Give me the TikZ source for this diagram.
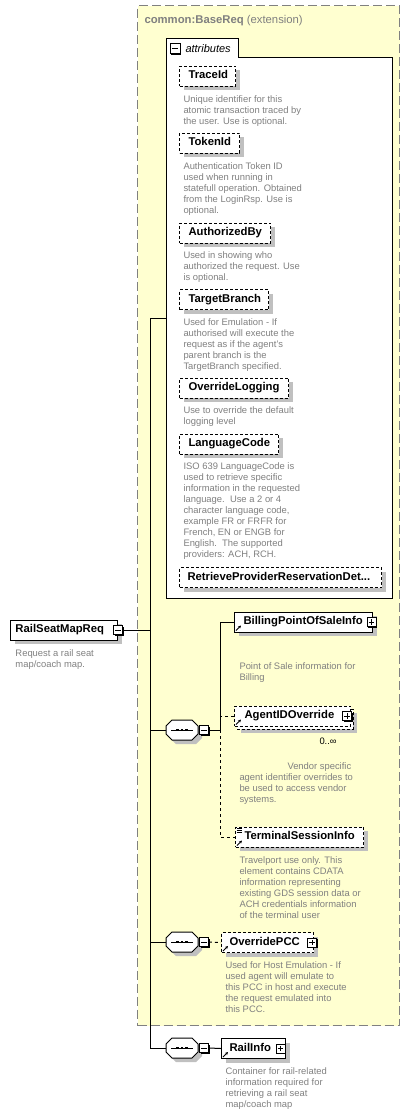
\documentclass[tikz,border=0pt]{standalone}
\usepackage{fontspec}
\setmainfont{Liberation Sans}
\usetikzlibrary{shadows,arrows.meta}
\definecolor{bgyellow}{RGB}{255,255,208}
\definecolor{shadowgray}{RGB}{192,192,192}
\definecolor{descgray}{RGB}{128,128,128}
\definecolor{framegray}{RGB}{128,128,128}
\newcommand\lblfont{\fontsize{11.3}{13}\selectfont\bfseries}
\newcommand\descfont{\fontsize{9.4}{10.9}\selectfont}
\begin{document}
\begin{tikzpicture}[x=1pt,y=-1pt,line width=1pt,
  lblbase/.style={font=\lblfont, text height=8.2pt, text depth=2.6pt, inner ysep=0pt, inner xsep=0pt,
    minimum height=20pt, anchor=west, align=left, fill=white, draw=black, line width=1pt},
  lbl/.style={lblbase, drop shadow={shadow xshift=4pt, shadow yshift=-4pt, fill=shadowgray, opacity=1}},
  opt/.style={dash pattern=on 3pt off 2pt},
  optline/.style={dash pattern=on 3pt off 3pt},
  desc/.style={font=\descfont, text=descgray, align=left, anchor=north west, inner sep=0pt},
  icon/.style={draw=black, fill=white, line width=0.8pt, minimum size=9pt, inner sep=0pt,
    drop shadow={shadow xshift=1.2pt, shadow yshift=-1.2pt, fill=black, opacity=1}},
  minus/.style={path picture={\draw[line width=0.8pt] ([xshift=1.8pt]path picture bounding box.west) -- ([xshift=-1.8pt]path picture bounding box.east);}},
  plus/.style={path picture={\draw[line width=0.8pt] ([xshift=1.8pt]path picture bounding box.west) -- ([xshift=-1.8pt]path picture bounding box.east) ([yshift=-1.8pt]path picture bounding box.north) -- ([yshift=1.8pt]path picture bounding box.south);}},
  seqbox/.style={minimum width=32pt, minimum height=20pt, inner sep=0pt},
  refarrow/.style={line width=0.9pt, -{Stealth[length=3pt,width=3pt]}}
]
\useasboundingbox (0,0) rectangle (417,1114);

% extension frame
\node[draw=framegray, dash pattern=on 9pt off 4pt, fill=bgyellow, line width=1pt,
  minimum width=262pt, minimum height=1020pt, anchor=north west, inner sep=0pt] (base) at (137,5) {};
\node[anchor=base west, inner sep=0pt, text=descgray, font=\lblfont] (title) at (144,23)
  {common:BaseReq {\mdseries (extension)}};

% attributes group
\draw[fill=white, line width=1pt] (166,598) -- (166,38) -- (238,38) -- (238,57) -- (392,57) -- (392,598) -- cycle;
\node[icon, minus, minimum size=10pt] (attricon) at (175,48.5) {};
\node[anchor=base west, inner sep=0pt, font=\fontsize{11}{13}\selectfont\itshape] (attrlbl) at (185,52) {attributes};
\coordinate (attrjoin) at (166,318);

\node[lbl, opt, text width=56pt] (traceid) at (179,76) {\hspace*{9pt}TraceId};
\node[desc] (traceiddesc) at (183,95.5) {Unique identifier for this\\atomic transaction traced by\\the user. Use is optional.};

\node[lbl, opt, text width=60pt] (tokenid) at (179,143) {\hspace*{9pt}TokenId};
\node[desc] (tokeniddesc) at (183,162.5) {Authentication Token ID\\used when running in\\statefull operation. Obtained\\from the LoginRsp. Use is\\optional.};

\node[lbl, opt, text width=91pt] (authby) at (179,233) {\hspace*{9pt}AuthorizedBy};
\node[desc] (authbydesc) at (183,251.5) {Used in showing who\\authorized the request. Use\\is optional.};

\node[lbl, opt, text width=89pt] (targetbr) at (179,299.5) {\hspace*{9pt}TargetBranch};
\node[desc] (targetbrdesc) at (183,318.5) {Used for Emulation - If\\authorised will execute the\\request as if the agent's\\parent branch is the\\TargetBranch specified.};

\node[lbl, opt, text width=109pt] (ovlog) at (179,388) {\hspace*{9pt}OverrideLogging};
\node[desc] (ovlogdesc) at (183,406.5) {Use to override the default\\logging level};

\node[lbl, opt, text width=99pt] (langcode) at (179,444) {\hspace*{9pt}LanguageCode};
\node[desc] (langcodedesc) at (183,462.5) {ISO 639 LanguageCode is\\used to retrieve specific\\information in the requested\\language.\ \ Use a 2 or 4\\character language code,\\example FR or FRFR for\\French, EN or ENGB for\\English.\ \ The supported\\providers: ACH, RCH.};

\node[lbl, opt, text width=202pt] (retrieve) at (179,577.5) {\hspace*{8pt}RetrieveProviderReservationDet...};

% root element
\node[lbl, text width=107pt] (rsm) at (10,630) {\hspace*{5pt}RailSeatMapReq};
\node[icon, minus] (rsmicon) at (118,630) {};
\node[desc] (rsmdesc) at (15,649.5) {Request a rail seat\\map/coach map.};

% sequence 1 children
\node[lbl, text width=138pt] (bill) at (234,622) {\hspace*{9pt}BillingPointOfSaleInfo};
\node[icon, plus] (billicon) at (371.5,622) {};
\draw[refarrow] ([shift={(2,-2)}]bill.south west) -- ([shift={(7,-7)}]bill.south west);
\node[desc] (billdesc) at (239,662) {Point of Sale information for\\Billing};

\fill[shadowgray] (241,713) rectangle (357,733);
\draw[fill=white, opt] (237,709) rectangle (353,729);
\node[lblbase, opt, text width=116pt] (agent) at (234,716) {\hspace*{10pt}AgentIDOverride};
\node[icon, plus] (agenticon) at (347,716) {};
\draw[refarrow] ([shift={(2,-2)}]agent.south west) -- ([shift={(7,-7)}]agent.south west);
\node[anchor=base west, inner sep=0pt, font=\descfont] (agentocc) at (319,744) {0..∞};
\node[desc] (agentdesc) at (239,762.5) {\hspace*{48pt}Vendor specific\\agent identifier overrides to\\be used to access vendor\\systems.};

\node[lbl, opt, text width=128pt] (term) at (235,837) {\hspace*{9pt}TerminalSessionInfo};
\draw[line width=0.7pt] ([shift={(1.5,1.5)}]term.north west) -- ++(5,0)
  ([shift={(1.5,3.8)}]term.north west) -- ++(5,0)
  ([shift={(1.5,6.1)}]term.north west) -- ++(5,0);
\draw[refarrow] ([shift={(2,-2)}]term.south west) -- ([shift={(7,-7)}]term.south west);
\node[desc] (termdesc) at (239,856.5) {Travelport use only. This\\element contains CDATA\\information representing\\existing GDS session data or\\ACH credentials information\\of the terminal user};

% sequence 2 child
\node[lbl, opt, text width=92pt] (ovpcc) at (221,942.5) {\hspace*{8pt}OverridePCC};
\node[icon, plus] (ovpccicon) at (312,942.5) {};
\draw[refarrow] ([shift={(2,-2)}]ovpcc.south west) -- ([shift={(7,-7)}]ovpcc.south west);
\node[desc] (ovpccdesc) at (225,961.5) {Used for Host Emulation - If\\used agent will emulate to\\this PCC in host and execute\\the request emulated into\\this PCC.};

% sequence 3 child
\node[lbl, text width=64pt] (railinfo) at (221,1048.5) {\hspace*{8pt}RailInfo};
\node[icon, plus] (railinfoicon) at (280.5,1048.5) {};
\draw[refarrow] ([shift={(2,-2)}]railinfo.south west) -- ([shift={(7,-7)}]railinfo.south west);
\node[desc] (railinfodesc) at (225,1067.5) {Container for rail-related\\information required for\\retrieving a rail seat\\map/coach map};

% sequence compositors
\node[seqbox] (seq1) at (182,730) {};
\node[seqbox] (seq2) at (182,942) {};
\node[seqbox] (seq3) at (182,1048) {};
\foreach \s in {seq1,seq2,seq3}{
  \fill[shadowgray] ([shift={(-12,0)}]\s.center) -- ([shift={(-6,-6)}]\s.center) -- ([shift={(14,-6)}]\s.center)
    -- ([shift={(20,0)}]\s.center) -- ([shift={(20,8)}]\s.center) -- ([shift={(14,14)}]\s.center)
    -- ([shift={(-6,14)}]\s.center) -- ([shift={(-12,8)}]\s.center) -- cycle;
  \draw[fill=white, line width=1pt] ([shift={(-16,-4)}]\s.center) -- ([shift={(-10,-10)}]\s.center) -- ([shift={(10,-10)}]\s.center)
    -- ([shift={(16,-4)}]\s.center) -- ([shift={(16,4)}]\s.center) -- ([shift={(10,10)}]\s.center)
    -- ([shift={(-10,10)}]\s.center) -- ([shift={(-16,4)}]\s.center) -- cycle;
  \draw[line width=0.8pt] ([shift={(-11,0)}]\s.center) -- ([shift={(11,0)}]\s.center);
  \fill ([shift={(-5.7,-1.2)}]\s.center) rectangle ([shift={(-3.3,1.2)}]\s.center);
  \fill ([shift={(-1.2,-1.2)}]\s.center) rectangle ([shift={(1.2,1.2)}]\s.center);
  \fill ([shift={(3.3,-1.2)}]\s.center) rectangle ([shift={(5.7,1.2)}]\s.center);
}
\node[icon, minus] (s1icon) at (204,730) {};
\node[icon, minus] (s2icon) at (204,942) {};
\node[icon, minus] (s3icon) at (204,1048) {};

% connectors
\coordinate (tTop) at (150,318);
\coordinate (tBot) at (150,1048);
\coordinate (s1bus) at (220,730);
\draw (attrjoin) -- (tTop) -- (tBot) -- (seq3.west);
\draw (rsmicon.east) -- (rsmicon.east -| tTop);
\draw (seq1.west -| tTop) -- (seq1.west);
\draw (seq2.west -| tTop) -- (seq2.west);
\draw (s1icon.east) -- (s1bus);
\draw (bill.west) -| (s1bus);
\draw[optline] (agent.west) -- (agent.west -| s1bus);
\draw[optline] (s1bus) |- (term.west);
\draw[optline] (s2icon.east) -- (ovpcc.west);
\draw (s3icon.east) -- (railinfo.west);
\end{tikzpicture}
\end{document}
